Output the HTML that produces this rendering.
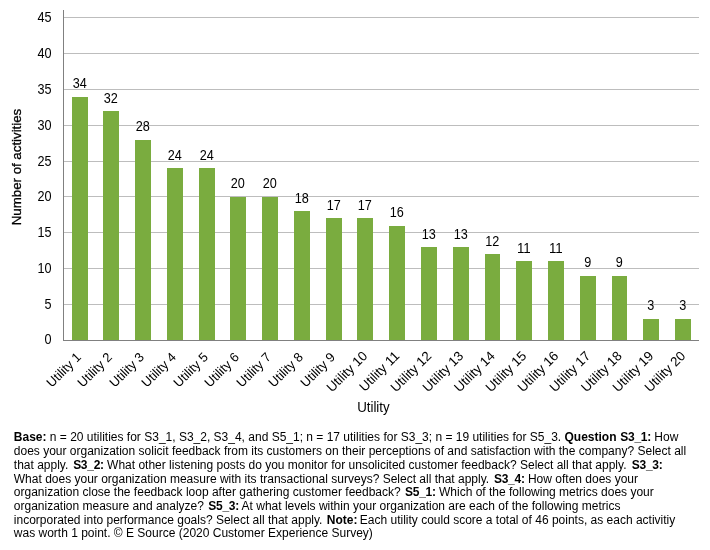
<!DOCTYPE html>
<html><head><meta charset="utf-8"><title>Chart</title>
<style>
html,body{margin:0;padding:0;background:#fff}
body{width:710px;height:550px;position:relative;overflow:hidden;font-family:"Liberation Sans",Arial,sans-serif;color:#000}
</style></head><body>
<svg width="710" height="550" viewBox="0 0 710 550" style="position:absolute;left:0;top:0;display:block" font-family="Liberation Sans, Arial, sans-serif" font-size="13.33px" fill="#000">
<g shape-rendering="crispEdges">
<rect x="64" y="17" width="635" height="1" fill="#bdbdbd"/>
<rect x="64" y="53" width="635" height="1" fill="#bdbdbd"/>
<rect x="64" y="89" width="635" height="1" fill="#bdbdbd"/>
<rect x="64" y="125" width="635" height="1" fill="#bdbdbd"/>
<rect x="64" y="161" width="635" height="1" fill="#bdbdbd"/>
<rect x="64" y="196" width="635" height="1" fill="#bdbdbd"/>
<rect x="64" y="232" width="635" height="1" fill="#bdbdbd"/>
<rect x="64" y="268" width="635" height="1" fill="#bdbdbd"/>
<rect x="64" y="304" width="635" height="1" fill="#bdbdbd"/>
<rect x="72" y="97" width="16" height="243" fill="#7aac3f"/>
<rect x="103" y="111" width="16" height="229" fill="#7aac3f"/>
<rect x="135" y="140" width="16" height="200" fill="#7aac3f"/>
<rect x="167" y="168" width="16" height="172" fill="#7aac3f"/>
<rect x="199" y="168" width="16" height="172" fill="#7aac3f"/>
<rect x="230" y="197" width="16" height="143" fill="#7aac3f"/>
<rect x="262" y="197" width="16" height="143" fill="#7aac3f"/>
<rect x="294" y="211" width="16" height="129" fill="#7aac3f"/>
<rect x="326" y="218" width="16" height="122" fill="#7aac3f"/>
<rect x="357" y="218" width="16" height="122" fill="#7aac3f"/>
<rect x="389" y="226" width="16" height="114" fill="#7aac3f"/>
<rect x="421" y="247" width="16" height="93" fill="#7aac3f"/>
<rect x="453" y="247" width="16" height="93" fill="#7aac3f"/>
<rect x="485" y="254" width="15" height="86" fill="#7aac3f"/>
<rect x="516" y="261" width="16" height="79" fill="#7aac3f"/>
<rect x="548" y="261" width="16" height="79" fill="#7aac3f"/>
<rect x="580" y="276" width="16" height="64" fill="#7aac3f"/>
<rect x="612" y="276" width="15" height="64" fill="#7aac3f"/>
<rect x="643" y="319" width="16" height="21" fill="#7aac3f"/>
<rect x="675" y="319" width="16" height="21" fill="#7aac3f"/>
<rect x="63" y="10" width="1" height="331" fill="#808080"/>
<rect x="63" y="340" width="636" height="1" fill="#808080"/>
</g>
<text transform="translate(79.8,88) scale(0.95,1.08)" text-anchor="middle" >34</text>
<text transform="translate(81.90,357.9) rotate(-45)" text-anchor="end" font-size="13px">Utility 1</text>
<text transform="translate(110.8,103) scale(0.95,1.08)" text-anchor="middle" >32</text>
<text transform="translate(112.90,357.9) rotate(-45)" text-anchor="end" font-size="13px">Utility 2</text>
<text transform="translate(142.8,131) scale(0.95,1.08)" text-anchor="middle" >28</text>
<text transform="translate(144.90,357.9) rotate(-45)" text-anchor="end" font-size="13px">Utility 3</text>
<text transform="translate(174.8,160) scale(0.95,1.08)" text-anchor="middle" >24</text>
<text transform="translate(176.90,357.9) rotate(-45)" text-anchor="end" font-size="13px">Utility 4</text>
<text transform="translate(206.8,160) scale(0.95,1.08)" text-anchor="middle" >24</text>
<text transform="translate(208.90,357.9) rotate(-45)" text-anchor="end" font-size="13px">Utility 5</text>
<text transform="translate(237.8,188) scale(0.95,1.08)" text-anchor="middle" >20</text>
<text transform="translate(239.90,357.9) rotate(-45)" text-anchor="end" font-size="13px">Utility 6</text>
<text transform="translate(269.8,188) scale(0.95,1.08)" text-anchor="middle" >20</text>
<text transform="translate(271.90,357.9) rotate(-45)" text-anchor="end" font-size="13px">Utility 7</text>
<text transform="translate(301.8,203) scale(0.95,1.08)" text-anchor="middle" >18</text>
<text transform="translate(303.90,357.9) rotate(-45)" text-anchor="end" font-size="13px">Utility 8</text>
<text transform="translate(333.8,210) scale(0.95,1.08)" text-anchor="middle" >17</text>
<text transform="translate(335.90,357.9) rotate(-45)" text-anchor="end" font-size="13px">Utility 9</text>
<text transform="translate(364.8,210) scale(0.95,1.08)" text-anchor="middle" >17</text>
<text transform="translate(368.20,356.7) rotate(-45)" text-anchor="end" font-size="13.33px">Utility 10</text>
<text transform="translate(396.8,217) scale(0.95,1.08)" text-anchor="middle" >16</text>
<text transform="translate(400.20,356.7) rotate(-45)" text-anchor="end" font-size="13.33px">Utility 11</text>
<text transform="translate(428.8,239) scale(0.95,1.08)" text-anchor="middle" >13</text>
<text transform="translate(432.20,356.7) rotate(-45)" text-anchor="end" font-size="13.33px">Utility 12</text>
<text transform="translate(460.8,239) scale(0.95,1.08)" text-anchor="middle" >13</text>
<text transform="translate(464.20,356.7) rotate(-45)" text-anchor="end" font-size="13.33px">Utility 13</text>
<text transform="translate(492.3,246) scale(0.95,1.08)" text-anchor="middle" >12</text>
<text transform="translate(495.70,356.7) rotate(-45)" text-anchor="end" font-size="13.33px">Utility 14</text>
<text transform="translate(523.8,253) scale(1,1.08)" text-anchor="middle" >11</text>
<text transform="translate(527.20,356.7) rotate(-45)" text-anchor="end" font-size="13.33px">Utility 15</text>
<text transform="translate(555.8,253) scale(1,1.08)" text-anchor="middle" >11</text>
<text transform="translate(559.20,356.7) rotate(-45)" text-anchor="end" font-size="13.33px">Utility 16</text>
<text transform="translate(587.8,267) scale(0.95,1.08)" text-anchor="middle" >9</text>
<text transform="translate(591.20,356.7) rotate(-45)" text-anchor="end" font-size="13.33px">Utility 17</text>
<text transform="translate(619.3,267) scale(0.95,1.08)" text-anchor="middle" >9</text>
<text transform="translate(622.70,356.7) rotate(-45)" text-anchor="end" font-size="13.33px">Utility 18</text>
<text transform="translate(650.8,310) scale(0.95,1.08)" text-anchor="middle" >3</text>
<text transform="translate(654.20,356.7) rotate(-45)" text-anchor="end" font-size="13.33px">Utility 19</text>
<text transform="translate(682.8,310) scale(0.95,1.08)" text-anchor="middle" >3</text>
<text transform="translate(686.20,356.7) rotate(-45)" text-anchor="end" font-size="13.33px">Utility 20</text>
<text transform="translate(51.6,22) scale(0.95,1.08)" text-anchor="end" >45</text>
<text transform="translate(51.6,58) scale(0.95,1.08)" text-anchor="end" >40</text>
<text transform="translate(51.6,94) scale(0.95,1.08)" text-anchor="end" >35</text>
<text transform="translate(51.6,130) scale(0.95,1.08)" text-anchor="end" >30</text>
<text transform="translate(51.6,166) scale(0.95,1.08)" text-anchor="end" >25</text>
<text transform="translate(51.6,201) scale(0.95,1.08)" text-anchor="end" >20</text>
<text transform="translate(51.6,237) scale(0.95,1.08)" text-anchor="end" >15</text>
<text transform="translate(51.6,273) scale(0.95,1.08)" text-anchor="end" >10</text>
<text transform="translate(51.6,309) scale(0.95,1.08)" text-anchor="end" >5</text>
<text transform="translate(51.6,344) scale(0.95,1.08)" text-anchor="end" >0</text>
<text transform="translate(21.3,167) rotate(-90) scale(1,1.02)" text-anchor="middle" textLength="116.5" lengthAdjust="spacing" stroke="#000" stroke-width="0.3">Number of activities</text>
<text transform="translate(373.4,411.9) scale(1,1.08)" text-anchor="middle">Utility</text>
<text x="13.8" y="441" font-size="12px" xml:space="preserve"><tspan font-weight="bold">Base:</tspan> n = 20 utilities for S3_1, S3_2, S3_4, and S5_1; n = 17 utilities for S3_3; n = 19 utilities for S5_3. <tspan font-weight="bold">Question </tspan><tspan font-weight="bold" dx="0.5" letter-spacing="-0.28">S3_1:</tspan> How</text>
<text x="13.8" y="455" font-size="12px" xml:space="preserve">does your organization solicit feedback from its customers on their perceptions of and satisfaction with the company? Select all</text>
<text x="13.8" y="469" font-size="12px" xml:space="preserve">that apply. <tspan font-weight="bold" dx="1.5" letter-spacing="-0.28">S3_2:</tspan> What other listening posts do you monitor for unsolicited customer feedback? Select all that apply. <tspan font-weight="bold" dx="2" letter-spacing="-0.28">S3_3:</tspan></text>
<text x="13.8" y="483" font-size="12px" xml:space="preserve">What does your organization measure with its transactional surveys? Select all that apply. <tspan font-weight="bold" dx="1.5" letter-spacing="-0.28">S3_4:</tspan> How often does your</text>
<text x="13.8" y="496" font-size="12px" xml:space="preserve">organization close the feedback loop after gathering customer feedback? <tspan font-weight="bold" dx="1" letter-spacing="-0.28">S5_1:</tspan> Which of the following metrics does your</text>
<text x="13.8" y="510" font-size="12px" xml:space="preserve">organization measure and analyze? <tspan font-weight="bold" dx="1" letter-spacing="-0.28">S5_3:</tspan> At what levels within your organization are each of the following metrics</text>
<text x="13.8" y="524" font-size="12px" xml:space="preserve">incorporated into performance goals? Select all that apply. <tspan font-weight="bold" dx="1">Note:</tspan><tspan dx="-1"> </tspan>Each utility could score a total of 46 points, as each activitiy</text>
<text x="13.8" y="537" font-size="12px" xml:space="preserve">was worth 1 point. © E Source (2020 Customer Experience Survey)</text>
</svg>
</body></html>
